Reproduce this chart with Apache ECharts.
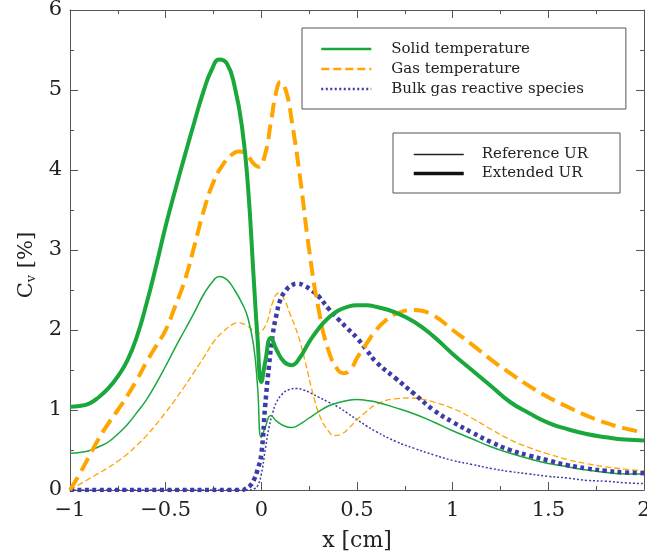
<!DOCTYPE html>
<html>
<head>
<meta charset="utf-8">
<script src="https://cdn.jsdelivr.net/npm/echarts@6/dist/echarts.min.js"></script>
<style>html,body{margin:0;padding:0;background:#fff}#c{width:647px;height:555px}</style>
</head>
<body>
<div id="c"></div>
<script>
// ---- data ----
const solidExtX = [-1,-0.95,-0.9,-0.85,-0.8,-0.75,-0.7,-0.65,-0.6,-0.55,-0.5,-0.45,-0.4,-0.35,-0.3,-0.26,-0.22,-0.18,-0.14,-0.1,-0.07,-0.04,-0.02,0,0.02,0.05,0.08,0.12,0.16,0.2,0.25,0.3,0.35,0.4,0.45,0.5,0.55,0.6,0.7,0.8,0.9,1.0,1.1,1.2,1.3,1.4,1.5,1.6,1.7,1.8,1.9,2.0];
const solidExtY = [1.04,1.05,1.08,1.16,1.27,1.42,1.62,1.92,2.33,2.8,3.3,3.75,4.18,4.6,5.0,5.25,5.38,5.33,5.05,4.52,3.8,2.65,1.9,1.35,1.6,1.9,1.75,1.6,1.56,1.65,1.85,2.02,2.15,2.24,2.29,2.31,2.31,2.29,2.22,2.1,1.92,1.7,1.5,1.3,1.1,0.96,0.84,0.76,0.7,0.66,0.63,0.62];

const gasExtX = [-1,-0.95,-0.9,-0.85,-0.8,-0.75,-0.7,-0.65,-0.6,-0.55,-0.5,-0.45,-0.4,-0.35,-0.3,-0.25,-0.2,-0.15,-0.12,-0.08,-0.04,-0.015,0.02,0.05,0.08,0.1,0.13,0.16,0.2,0.25,0.3,0.35,0.4,0.43,0.47,0.5,0.55,0.6,0.65,0.7,0.8,0.9,1.0,1.1,1.2,1.3,1.4,1.5,1.6,1.7,1.8,1.9,2.0];
const gasExtY = [0,0.2,0.42,0.64,0.83,1.0,1.18,1.38,1.6,1.8,2.0,2.3,2.62,3.05,3.5,3.85,4.07,4.2,4.23,4.2,4.08,4.04,4.2,4.6,5.0,5.1,4.98,4.6,3.95,3.0,2.25,1.75,1.5,1.46,1.52,1.65,1.83,2.0,2.12,2.2,2.25,2.18,2.0,1.82,1.63,1.46,1.3,1.16,1.04,0.93,0.84,0.77,0.72];

const bulkExtX = [-1,-0.5,-0.1,-0.08,-0.06,-0.04,-0.02,0,0.02,0.04,0.06,0.08,0.1,0.13,0.16,0.19,0.22,0.26,0.3,0.35,0.4,0.45,0.5,0.55,0.6,0.7,0.8,0.9,1.0,1.1,1.2,1.3,1.4,1.5,1.6,1.7,1.8,1.9,2.0];
const bulkExtY = [0,0,0,0.02,0.05,0.12,0.25,0.45,1.05,1.55,1.95,2.2,2.38,2.5,2.56,2.58,2.56,2.5,2.42,2.27,2.14,2.02,1.9,1.75,1.6,1.4,1.2,1.0,0.85,0.72,0.6,0.5,0.43,0.37,0.31,0.27,0.24,0.22,0.21];

const solidRefX = [-1,-0.95,-0.9,-0.85,-0.8,-0.75,-0.7,-0.65,-0.6,-0.55,-0.5,-0.45,-0.4,-0.35,-0.3,-0.25,-0.22,-0.18,-0.14,-0.1,-0.07,-0.04,-0.02,0,0.02,0.05,0.08,0.12,0.16,0.2,0.25,0.3,0.35,0.4,0.45,0.5,0.55,0.6,0.7,0.8,0.9,1.0,1.1,1.2,1.3,1.4,1.5,1.6,1.7,1.8,1.9,2.0];
const solidRefY = [0.46,0.47,0.49,0.54,0.6,0.7,0.82,0.97,1.13,1.33,1.55,1.78,2.0,2.22,2.45,2.62,2.67,2.63,2.5,2.33,2.15,1.8,1.3,0.66,0.78,0.93,0.86,0.8,0.78,0.82,0.9,0.98,1.05,1.09,1.12,1.13,1.12,1.1,1.03,0.95,0.85,0.74,0.64,0.54,0.46,0.39,0.33,0.29,0.25,0.22,0.2,0.2];

const gasRefX = [-1,-0.95,-0.9,-0.85,-0.8,-0.75,-0.7,-0.65,-0.6,-0.55,-0.5,-0.45,-0.4,-0.35,-0.3,-0.25,-0.2,-0.15,-0.12,-0.08,-0.04,-0.02,0,0.03,0.06,0.09,0.12,0.15,0.19,0.23,0.27,0.31,0.35,0.38,0.42,0.46,0.5,0.55,0.6,0.7,0.78,0.85,0.9,1.0,1.1,1.2,1.3,1.4,1.5,1.6,1.7,1.8,1.9,2.0];
const gasRefY = [0,0.07,0.14,0.21,0.28,0.36,0.45,0.56,0.68,0.82,0.97,1.13,1.3,1.48,1.66,1.85,1.98,2.07,2.09,2.06,1.99,1.96,1.98,2.1,2.35,2.46,2.38,2.2,1.95,1.6,1.2,0.9,0.74,0.68,0.7,0.78,0.88,0.98,1.07,1.14,1.15,1.13,1.1,1.02,0.9,0.76,0.63,0.53,0.45,0.38,0.33,0.29,0.26,0.24];

const bulkRefX = [-1,-0.5,-0.05,-0.04,-0.02,0,0.02,0.04,0.06,0.08,0.11,0.14,0.18,0.22,0.26,0.3,0.35,0.4,0.45,0.5,0.55,0.6,0.7,0.8,0.9,1.0,1.1,1.2,1.3,1.4,1.5,1.6,1.7,1.8,1.9,2.0];
const bulkRefY = [0,0,0,0.01,0.05,0.2,0.5,0.78,0.97,1.1,1.2,1.25,1.27,1.25,1.21,1.16,1.1,1.04,0.96,0.88,0.8,0.73,0.61,0.52,0.44,0.37,0.32,0.27,0.23,0.2,0.17,0.15,0.12,0.11,0.09,0.08];

const xTicks = [-1, -0.5, 0, 0.5, 1, 1.5, 2];
const yTicks = [0, 1, 2, 3, 4, 5, 6];
const legendColors = ['Solid temperature', 'Gas temperature', 'Bulk gas reactive species'];
const legendUR = ['Reference UR', 'Extended UR'];

// ---- styles ----
const GREEN = '#1aa83c', ORANGE = '#ffa500', BLUE = '#3c3ca8';
const FONT = 'DejaVu Serif';
const pairs = (xs, ys) => xs.map((x, i) => [x, ys[i]]);
const fmt = v => (v < 0 ? '\u2212' + Math.abs(v) : String(v));

function axisCommon(extra) {
  return Object.assign({
    type: 'value',
    axisLine: { show: true, onZero: false, lineStyle: { color: '#555', width: 1 } },
    axisTick: { show: true, inside: true, length: 8, lineStyle: { color: '#555' } },
    minorTick: { show: true, splitNumber: 2, length: 4, lineStyle: { color: '#555' } },
    splitLine: { show: false },
    minorSplitLine: { show: false }
  }, extra);
}

function lineSeries(name, xs, ys, color, width, dash, z) {
  return {
    name, type: 'line', data: pairs(xs, ys), showSymbol: false, symbol: 'none',
    smooth: 0.5, z: z || 2,
    lineStyle: { color, width, type: dash, cap: 'butt' }, silent: true
  };
}

function legendDummy(name, color, width, dash) {
  return { name, type: 'line', data: [], symbol: 'none',
    lineStyle: { color, width, type: dash }, itemStyle: { color, opacity: 0 } };
}

const legendBase = {
  orient: 'vertical', itemWidth: 50, itemGap: 0,
  borderColor: '#555', borderWidth: 1, backgroundColor: '#fff',
  itemStyle: { opacity: 0 }, selectedMode: false
};

const chart = echarts.init(document.getElementById('c'), null, { renderer: 'canvas' });
chart.setOption({
  animation: false,
  backgroundColor: '#fff',
  grid: { left: 70, right: 3, top: 10, bottom: 65, containLabel: false, outerBoundsMode: 'none' },
  xAxis: [
    axisCommon({
      min: xTicks[0], max: xTicks[xTicks.length - 1], interval: 0.5, position: 'bottom',
      name: 'x [cm]', nameLocation: 'middle', nameGap: 40,
      nameTextStyle: { fontFamily: FONT, fontSize: 22, color: '#222' },
      axisLabel: { show: true, margin: 10, fontFamily: FONT, fontSize: 21, color: '#222', formatter: fmt }
    }),
    axisCommon({
      min: xTicks[0], max: xTicks[xTicks.length - 1], interval: 0.5, position: 'top',
      axisLabel: { show: false }
    })
  ],
  yAxis: [
    axisCommon({
      min: yTicks[0], max: yTicks[yTicks.length - 1], interval: 1, position: 'left',
      name: 'C{s|v} [%]', nameLocation: 'middle', nameGap: 32, nameRotate: 90,
      nameTextStyle: { fontFamily: FONT, fontSize: 21, color: '#222', padding: [0, 30, 0, 0],
        rich: { s: { fontFamily: FONT, fontSize: 13, color: '#222', verticalAlign: 'bottom', padding: [10, 0, 0, 0] } } },
      axisLabel: { show: true, margin: 8, fontFamily: FONT, fontSize: 21, color: '#222', formatter: fmt }
    }),
    axisCommon({
      min: yTicks[0], max: yTicks[yTicks.length - 1], interval: 1, position: 'right',
      axisLabel: { show: false }
    })
  ],
  legend: [
    Object.assign({}, legendBase, {
      data: [
        { name: legendColors[0], lineStyle: { color: GREEN, width: 2.5, type: 'solid' } },
        { name: legendColors[1], lineStyle: { color: ORANGE, width: 2.5, type: [8, 4] } },
        { name: legendColors[2], lineStyle: { color: BLUE, width: 2.5, type: [2, 2.5] } }
      ],
      left: 302, top: 28,
      padding: [11, 42, 10, 18], itemHeight: 20,
      textStyle: { fontFamily: FONT, fontSize: 15, color: '#222', lineHeight: 20, padding: [0, 0, 0, 15] }
    }),
    Object.assign({}, legendBase, {
      data: [
        { name: legendUR[0], lineStyle: { color: '#222', width: 1.5, type: 'solid' } },
        { name: legendUR[1], lineStyle: { color: '#111', width: 3.5, type: 'solid' } }
      ],
      left: 393, top: 133,
      padding: [12, 32, 10, 19], itemHeight: 19,
      textStyle: { fontFamily: FONT, fontSize: 15, color: '#222', lineHeight: 19, padding: [0, 0, 0, 13] }
    })
  ],
  series: [
    legendDummy(legendColors[0], GREEN, 2.5, 'solid'),
    legendDummy(legendColors[1], ORANGE, 2.5, [8, 4]),
    legendDummy(legendColors[2], BLUE, 2.5, [2, 2.5]),
    legendDummy(legendUR[0], '#222', 1.5, 'solid'),
    legendDummy(legendUR[1], '#111', 3.5, 'solid'),
    lineSeries('bulkRef', bulkRefX, bulkRefY, BLUE, 1.5, [2, 2], 2),
    lineSeries('gasRef', gasRefX, gasRefY, ORANGE, 1.3, [6, 3], 3),
    lineSeries('solidRef', solidRefX, solidRefY, GREEN, 1.5, 'solid', 4),
    lineSeries('bulkExt', bulkExtX, bulkExtY, BLUE, 4.5, [4, 3.5], 5),
    lineSeries('gasExt', gasExtX, gasExtY, ORANGE, 4, [15, 7], 6),
    lineSeries('solidExt', solidExtX, solidExtY, GREEN, 4, 'solid', 7)
  ]
});
</script>
</body>
</html>
